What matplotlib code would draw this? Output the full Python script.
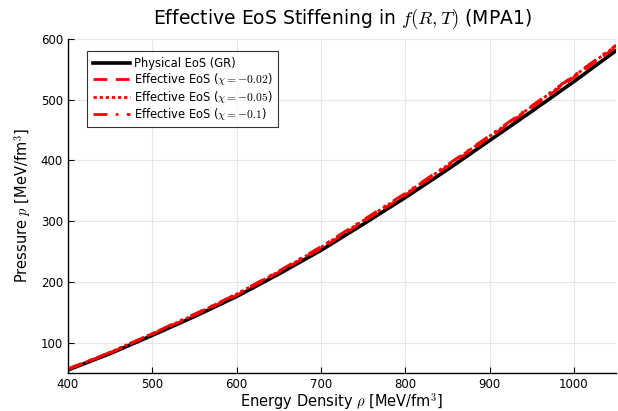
import matplotlib
matplotlib.use("Agg")
import matplotlib.pyplot as plt

plt.rcParams["mathtext.fontset"] = "cm"
plt.rcParams["font.family"] = "DejaVu Sans"

# MPA1 energy density grid [MeV/fm^3] and pressures [MeV/fm^3]
energy_density = [400, 450, 500, 550, 600, 650, 700, 750, 800, 850, 900, 950, 1000, 1050]
p_physical = [55, 82, 112, 143, 176, 213, 252, 295, 339, 385, 433, 481, 530, 581]
p_eff_002 = [56, 83, 114, 145, 178, 216, 255, 299, 343, 390, 438, 487, 537, 587]
p_eff_005 = [56, 84, 115, 146, 180, 217, 257, 301, 345, 392, 440, 489, 539, 589]
p_eff_010 = [57, 84, 115, 147, 180, 218, 258, 302, 346, 393, 441, 490, 540, 590]

x_ticks = [400, 500, 600, 700, 800, 900, 1000]
y_ticks = [100, 200, 300, 400, 500, 600]

fig = plt.figure(figsize=(6.18, 4.11), dpi=100)
ax = fig.add_axes([0.110, 0.0925, 0.887, 0.8125])

ax.plot(energy_density, p_physical, color="black", lw=2.6, label="Physical EoS (GR)")
ax.plot(energy_density, p_eff_002, color="red", lw=2.0, ls=(0, (5, 3)),
        label=r"Effective EoS ($\chi = -0.02$)")
ax.plot(energy_density, p_eff_005, color="red", lw=2.0, ls=(0, (1.2, 1)),
        label=r"Effective EoS ($\chi = -0.05$)")
ax.plot(energy_density, p_eff_010, color="red", lw=2.0, ls=(0, (5, 3, 1, 3)),
        label=r"Effective EoS ($\chi = -0.1$)")

ax.set_xlim(400, 1050)
ax.set_ylim(50, 600)
ax.set_xticks(x_ticks)
ax.set_yticks(y_ticks)
ax.tick_params(direction="in", length=4, width=0.8, labelsize=8.5, color="black")
ax.grid(True, color="#e6e6e6", lw=0.8)
ax.set_axisbelow(True)
for side in ("top", "right"):
    ax.spines[side].set_visible(False)
for side in ("left", "bottom"):
    ax.spines[side].set_linewidth(1.0)

ax.set_title(r"Effective EoS Stiffening in $f(R,T)$ (MPA1)", fontsize=13.5, pad=11)
ax.set_xlabel(r"Energy Density $\rho$ [MeV/fm$^3$]", fontsize=10.5, labelpad=0)
ax.set_ylabel(r"Pressure $p$ [MeV/fm$^3$]", fontsize=10.5, labelpad=6)

leg = ax.legend(loc="upper left", bbox_to_anchor=(0.025, 0.98), fontsize=8.3,
                frameon=True, fancybox=False, edgecolor="black",
                handlelength=3.2, handletextpad=0.3, labelspacing=0.1,
                borderpad=0.5)
leg.get_frame().set_linewidth(0.8)

fig.savefig("out.png", dpi=100)
